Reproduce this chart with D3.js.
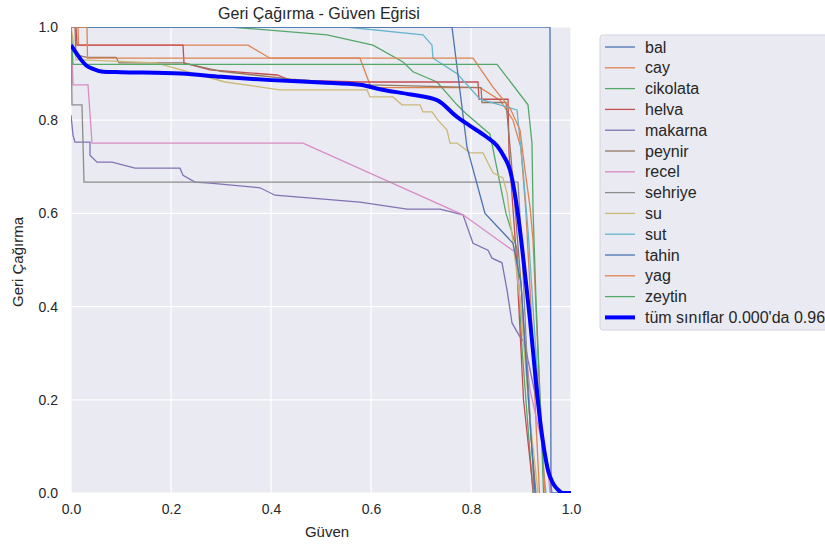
<!DOCTYPE html>
<html>
<head>
<meta charset="utf-8">
<script src="https://cdn.jsdelivr.net/npm/d3@7"></script>
<style>
  body { margin: 0; background: #fff; }
  svg { display: block; font-family: "Liberation Sans", Arial, sans-serif; }
</style>
</head>
<body>
<svg id="chart" width="825" height="544"></svg>
<script>
// ── Data (confidence, recall) ──
const classNames = ["bal", "cay", "cikolata", "helva", "makarna", "peynir", "recel",
  "sehriye", "su", "sut", "tahin", "yag", "zeytin"];
const palette = ["#4c72b0", "#dd8452", "#55a868", "#c44e52", "#8172b3", "#937860",
  "#da8bc3", "#8c8c8c", "#ccb974", "#64b5cd"];

const bal = [[0,1],[0.958,1],[0.96,0],[1,0]];
const cay = [[0,1],[0.014,1],[0.015,0.961],[0.354,0.961],[0.398,0.933],[0.578,0.933],[0.6,0.87],
  [0.818,0.87],[0.858,0.843],[0.884,0.8],[0.9,0.74],[0.91,0.6],[0.92,0.4],[0.93,0.15],[0.937,0]];
const cikolata = [[0,1],[0.318,1],[0.512,0.983],[0.604,0.961],[0.664,0.925],[0.684,0.904],
  [0.732,0.882],[0.772,0.833],[0.792,0.812],[0.838,0.77],[0.87,0.6],[0.892,0.524],
  [0.902,0.31],[0.92,0.056],[0.924,0]];
const helva = [[0,1],[0.01,1],[0.012,0.961],[0.224,0.961],[0.226,0.923],[0.278,0.908],
  [0.412,0.897],[0.438,0.886],[0.584,0.882],[0.814,0.882],[0.816,0.845],[0.874,0.845],
  [0.876,0.73],[0.89,0.52],[0.905,0.2],[0.925,0]];
const makarna = [[0,0.811],[0.004,0.768],[0.008,0.753],[0.038,0.753],[0.038,0.725],
  [0.052,0.71],[0.082,0.71],[0.128,0.697],[0.218,0.697],[0.224,0.682],[0.248,0.667],
  [0.278,0.665],[0.378,0.655],[0.408,0.639],[0.578,0.624],[0.672,0.609],[0.738,0.609],
  [0.784,0.597],[0.804,0.536],[0.834,0.521],[0.842,0.504],[0.862,0.494],[0.872,0.436],
  [0.882,0.365],[0.898,0.335],[0.908,0.322],[0.914,0.285],[0.938,0.163],[0.948,0.092],
  [0.958,0.034],[0.962,0]];
const peynir = [[0,1],[0.008,1],[0.01,0.94],[0.032,0.935],[0.09,0.935],[0.096,0.923],
  [0.224,0.923],[0.3,0.905],[0.44,0.888],[0.6,0.876],[0.82,0.87],[0.822,0.838],
  [0.87,0.838],[0.88,0.72],[0.9,0.45],[0.92,0.12],[0.93,0]];
const recel = [[0,1],[0.004,0.876],[0.034,0.876],[0.042,0.751],[0.464,0.751],[0.784,0.597],
  [0.888,0.517],[0.918,0.221],[0.954,0.05],[0.958,0]];
const sehriye = [[0,1],[0.002,0.833],[0.022,0.833],[0.026,0.667],[0.894,0.667],
  [0.902,0.52],[0.914,0.24],[0.924,0.056],[0.925,0]];
const su = [[0,1],[0.01,0.93],[0.17,0.923],[0.308,0.882],[0.418,0.865],[0.592,0.865],
  [0.598,0.85],[0.644,0.85],[0.662,0.833],[0.698,0.833],[0.704,0.818],[0.722,0.818],
  [0.734,0.8],[0.752,0.779],[0.758,0.751],[0.772,0.751],[0.798,0.73],[0.824,0.73],
  [0.834,0.708],[0.844,0.687],[0.864,0.676],[0.872,0.644],[0.898,0.414],[0.918,0.157],[0.934,0]];
const sut = [[0,1],[0.55,1],[0.704,0.983],[0.722,0.961],[0.724,0.933],[0.772,0.9],
  [0.818,0.845],[0.892,0.822],[0.904,0.693],[0.915,0.55],[0.93,0.3],[0.945,0.05],[0.95,0]];
const tahin = [[0,1],[0.762,1],[0.792,0.742],[0.828,0.6],[0.884,0.536],[0.9,0.45],
  [0.915,0.2],[0.928,0]];
const yag = [[0,1],[0.032,1],[0.033,0.933],[0.804,0.933],[0.844,0.871],[0.878,0.826],
  [0.898,0.779],[0.908,0.693],[0.918,0.614],[0.924,0.543],[0.938,0.2],[0.948,0]];
const zeytin = [[0,1],[0.004,0.92],[0.852,0.92],[0.914,0.833],[0.922,0.75],[0.924,0.61],
  [0.93,0.414],[0.94,0.157],[0.945,0]];
const allClasses = [[0,0.961],[0.01,0.945],[0.02,0.93],[0.03,0.918],[0.044,0.91],
  [0.064,0.904],[0.1,0.903],[0.22,0.9],[0.3,0.893],[0.4,0.886],[0.5,0.881],[0.578,0.876],
  [0.62,0.866],[0.68,0.855],[0.732,0.843],[0.772,0.807],[0.798,0.788],[0.83,0.765],
  [0.852,0.745],[0.866,0.722],[0.878,0.693],[0.888,0.64],[0.898,0.564],[0.908,0.47],
  [0.918,0.371],[0.928,0.26],[0.938,0.157],[0.946,0.095],[0.954,0.049],[0.962,0.025],
  [0.968,0.014],[0.976,0.005],[0.984,0],[1,0]];
const allLabel = "tüm sınıflar 0.000'da 0.96";

const series = [bal, cay, cikolata, helva, makarna, peynir, recel, sehriye, su, sut, tahin, yag, zeytin];
const ticks = [0, 0.2, 0.4, 0.6, 0.8, 1.0];

// ── Layout ──
const svg = d3.select("#chart");
const m = { left: 71, top: 27, right: 571, bottom: 493 };

const x = d3.scaleLinear().domain([0, 1]).range([m.left, m.right]);
const y = d3.scaleLinear().domain([0, 1]).range([m.bottom, m.top]);

svg.append("defs").append("clipPath").attr("id", "plotclip")
  .append("rect")
  .attr("x", m.left).attr("y", m.top)
  .attr("width", m.right - m.left).attr("height", m.bottom - m.top);

// axes background + grid
svg.append("rect")
  .attr("x", m.left).attr("y", m.top)
  .attr("width", m.right - m.left).attr("height", m.bottom - m.top)
  .attr("fill", "#eaeaf2");

const grid = svg.append("g");
grid.selectAll(".gx").data(ticks).join("line")
  .attr("x1", d => x(d)).attr("x2", d => x(d))
  .attr("y1", m.top).attr("y2", m.bottom)
  .attr("stroke", "#fff").attr("stroke-width", 1.2);
grid.selectAll(".gy").data(ticks).join("line")
  .attr("y1", d => y(d)).attr("y2", d => y(d))
  .attr("x1", m.left).attr("x2", m.right)
  .attr("stroke", "#fff").attr("stroke-width", 1.2);

// tick labels via axes
const xAxis = svg.append("g")
  .attr("transform", `translate(0,${m.bottom})`)
  .call(d3.axisBottom(x).tickValues(ticks).tickFormat(d3.format(".1f")).tickSize(0).tickPadding(11));
const yAxis = svg.append("g")
  .attr("transform", `translate(${m.left},0)`)
  .call(d3.axisLeft(y).tickValues(ticks).tickFormat(d3.format(".1f")).tickSize(0).tickPadding(13));
[xAxis, yAxis].forEach(a => {
  a.select(".domain").remove();
  a.selectAll("text").attr("fill", "#262626").style("font-size", "14px")
    .style("font-family", "'Liberation Sans', Arial, sans-serif");
});

// ── Curves ──
const line = d3.line().x(d => x(d[0])).y(d => y(d[1]));
const smooth = d3.line().x(d => x(d[0])).y(d => y(d[1])).curve(d3.curveMonotoneX);
const plot = svg.append("g").attr("clip-path", "url(#plotclip)");

plot.selectAll(".cls").data(series).join("path")
  .attr("fill", "none")
  .attr("stroke", (d, i) => palette[i % palette.length])
  .attr("stroke-width", 1.3)
  .attr("d", line);

plot.append("path")
  .datum(allClasses)
  .attr("fill", "none")
  .attr("stroke", "#0000ff")
  .attr("stroke-width", 4)
  .attr("stroke-linejoin", "round")
  .attr("d", smooth);

// ── Text ──
svg.append("text")
  .attr("x", (m.left + m.right) / 2 - 2).attr("y", 19)
  .attr("text-anchor", "middle").attr("fill", "#262626")
  .style("font-size", "16px")
  .text("Geri Çağırma - Güven Eğrisi");

svg.append("text")
  .attr("x", (m.left + m.right) / 2 + 6).attr("y", 537)
  .attr("text-anchor", "middle").attr("fill", "#262626")
  .style("font-size", "15px")
  .text("Güven");

svg.append("text")
  .attr("transform", `translate(23,${(m.top + m.bottom) / 2 + 2}) rotate(-90)`)
  .attr("text-anchor", "middle").attr("fill", "#262626")
  .style("font-size", "15px")
  .text("Geri Çağırma");

// ── Legend ──
const lg = svg.append("g").attr("transform", "translate(600,35)");
lg.append("rect")
  .attr("x", 0).attr("y", 0).attr("width", 260).attr("height", 295)
  .attr("rx", 3)
  .attr("fill", "#eaeaf2").attr("stroke", "#d4d4dc").attr("stroke-width", 1);

const legendItems = classNames.map((n, i) => ({ name: n, color: palette[i % palette.length], w: 1.3 }))
  .concat([{ name: allLabel, color: "#0000ff", w: 4 }]);

const rows = lg.selectAll(".row").data(legendItems).join("g")
  .attr("transform", (d, i) => `translate(0,${12 + i * 20.8})`);
rows.append("line")
  .attr("x1", 5).attr("x2", 35).attr("y1", 0).attr("y2", 0)
  .attr("stroke", d => d.color).attr("stroke-width", d => d.w);
rows.append("text")
  .attr("x", 45).attr("y", 5.5)
  .attr("fill", "#262626").style("font-size", "16px")
  .text(d => d.name);
</script>
</body>
</html>
